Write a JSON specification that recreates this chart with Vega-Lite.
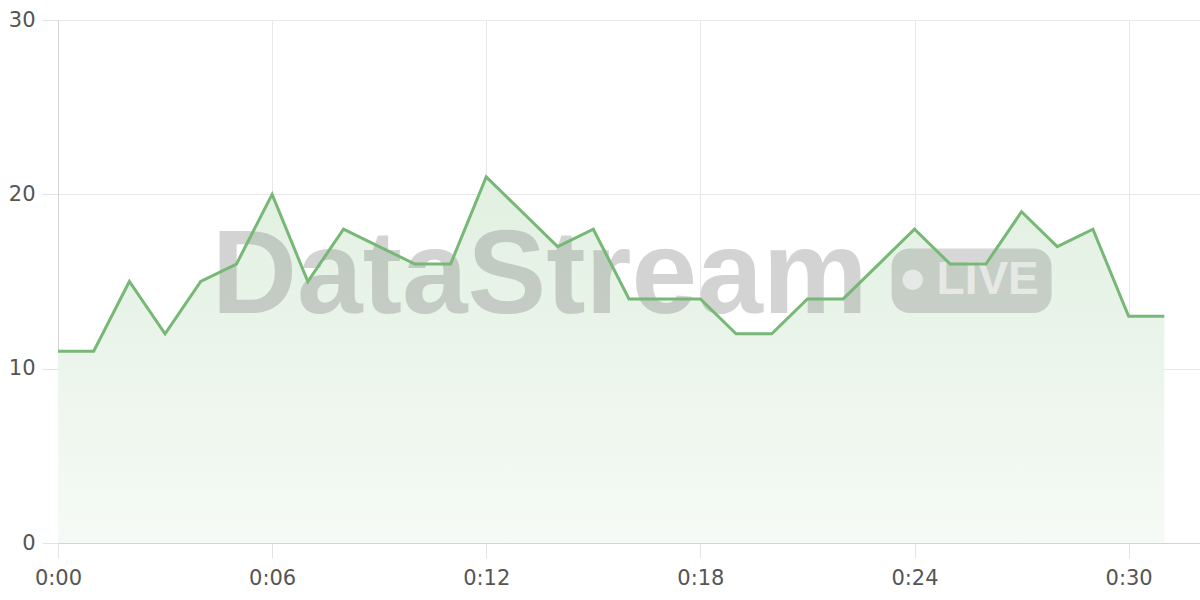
{
  "$schema": "https://vega.github.io/schema/vega-lite/v6.json",
  "width": 1142,
  "height": 523,
  "autosize": "none",
  "padding": {"left": 58, "top": 20, "right": 0, "bottom": 57},
  "background": "white",
  "config": {
    "view": {"stroke": null},
    "axis": {
      "labelFont": "DejaVu Sans",
      "labelFontSize": 21,
      "labelColor": "#555555",
      "gridColor": "#e8e8e8",
      "tickColor": "#e3e3e3",
      "tickSize": 15,
      "domainColor": "#d4d4d4",
      "title": null
    }
  },
  "datasets": {
    "series": [
      {"minute": 0, "value": 11},
      {"minute": 1, "value": 11},
      {"minute": 2, "value": 15},
      {"minute": 3, "value": 12},
      {"minute": 4, "value": 15},
      {"minute": 5, "value": 16},
      {"minute": 6, "value": 20},
      {"minute": 7, "value": 15},
      {"minute": 8, "value": 18},
      {"minute": 9, "value": 17},
      {"minute": 10, "value": 16},
      {"minute": 11, "value": 16},
      {"minute": 12, "value": 21},
      {"minute": 13, "value": 19},
      {"minute": 14, "value": 17},
      {"minute": 15, "value": 18},
      {"minute": 16, "value": 14},
      {"minute": 17, "value": 14},
      {"minute": 18, "value": 14},
      {"minute": 19, "value": 12},
      {"minute": 20, "value": 12},
      {"minute": 21, "value": 14},
      {"minute": 22, "value": 14},
      {"minute": 23, "value": 16},
      {"minute": 24, "value": 18},
      {"minute": 25, "value": 16},
      {"minute": 26, "value": 16},
      {"minute": 27, "value": 19},
      {"minute": 28, "value": 17},
      {"minute": 29, "value": 18},
      {"minute": 30, "value": 13},
      {"minute": 31, "value": 13}
    ]
  },
  "layer": [
    {
      "data": {"name": "series"},
      "mark": {
        "type": "area",
        "color": {
          "gradient": "linear",
          "x1": 0, "y1": 0, "x2": 0, "y2": 1,
          "stops": [
            {"offset": 0, "color": "#e1f0e1"},
            {"offset": 1, "color": "#f6faf6"}
          ]
        }
      },
      "encoding": {
        "x": {
          "field": "minute",
          "type": "quantitative",
          "scale": {"domain": [0, 32], "nice": false, "zero": false},
          "axis": {
            "values": [0, 6, 12, 18, 24, 30],
            "labelExpr": "'0:' + (datum.value < 10 ? '0' : '') + datum.value",
            "labelPadding": 9,
            "labelFlush": false
          }
        },
        "y": {
          "field": "value",
          "type": "quantitative",
          "scale": {"domain": [0, 30], "nice": false},
          "axis": {"values": [0, 10, 20, 30], "labelPadding": 7, "tickSize": 16}
        }
      }
    },
    {
      "data": {"values": [{"label": "DataStream"}]},
      "mark": {
        "type": "text",
        "font": "Liberation Sans",
        "fontWeight": "bold",
        "fontSize": 118,
        "align": "center",
        "baseline": "alphabetic",
        "color": "#7a7a7a",
        "opacity": 0.32
      },
      "encoding": {
        "text": {"field": "label"},
        "x": {"datum": 13.5, "type": "quantitative"},
        "y": {"datum": 13.2, "type": "quantitative"}
      }
    },
    {
      "data": {"values": [{"label": "LIVE"}]},
      "mark": {"type": "rect", "cornerRadius": 18, "color": "#7a7a7a", "opacity": 0.3},
      "encoding": {
        "x": {"datum": 23.36, "type": "quantitative"},
        "x2": {"datum": 27.84},
        "y": {"datum": 13.2, "type": "quantitative"},
        "y2": {"datum": 16.9}
      }
    },
    {
      "data": {"values": [{"label": "LIVE"}]},
      "mark": {"type": "circle", "size": 420, "color": "white", "opacity": 0.55},
      "encoding": {
        "x": {"datum": 23.95, "type": "quantitative"},
        "y": {"datum": 15.1, "type": "quantitative"}
      }
    },
    {
      "data": {"values": [{"label": "LIVE"}]},
      "mark": {
        "type": "text",
        "font": "Liberation Sans",
        "fontWeight": "bold",
        "fontSize": 46,
        "align": "center",
        "baseline": "middle",
        "color": "white",
        "opacity": 0.55
      },
      "encoding": {
        "text": {"field": "label"},
        "x": {"datum": 26.05, "type": "quantitative"},
        "y": {"datum": 15.1, "type": "quantitative"}
      }
    },
    {
      "data": {"name": "series"},
      "mark": {"type": "line", "color": "#77b877", "strokeWidth": 3},
      "encoding": {
        "x": {"field": "minute", "type": "quantitative"},
        "y": {"field": "value", "type": "quantitative"}
      }
    }
  ]
}
